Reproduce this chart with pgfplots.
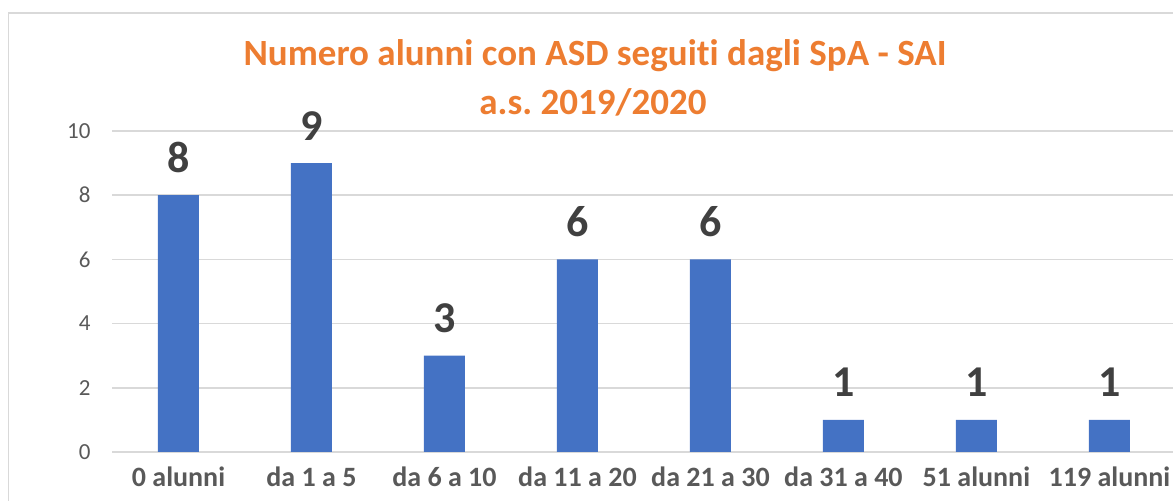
\documentclass[border=0pt]{standalone}
\usepackage{pgfplots}
\pgfplotsset{compat=1.18}
\usepackage{fontspec}
\setmainfont{Carlito}[Ligatures=NoCommon]
\frenchspacing

\definecolor{barblue}{HTML}{4472C4}
\definecolor{titleorange}{HTML}{ED7D31}
\definecolor{gridgray}{HTML}{D9D9D9}
\definecolor{ticktext}{HTML}{595959}
\definecolor{labeltext}{HTML}{404040}

\begin{document}
\begin{tikzpicture}
% page = 1173 x 501 bp, one bp per pixel of the reference
\useasboundingbox (0,0) rectangle (1173bp,501bp);
\clip (0,0) rectangle (1173bp,501bp);
\draw[gridgray, line width=1.5bp] (8.5bp,488bp) rectangle (1200bp,-20bp);

\begin{axis}[
    at={(112bp,49bp)}, anchor=south west,
    scale only axis,
    width=1064bp, height=321bp,
    ybar, bar width=41bp,
    xmin=-0.5, xmax=7.5,
    ymin=0, ymax=10,
    ytick={0,2,...,10},
    xtick=data,
    xticklabels={0 alunni, da 1 a 5, da 6 a 10, da 11 a 20, da 21 a 30, da 31 a 40, 51 alunni, 119 alunni},
    axis line style={draw=none},
    major tick length=0pt,
    ymajorgrids=true,
    grid style={gridgray, line width=1.5bp},
    /pgf/number format/assume math mode=true,
    yticklabel style={font=\fontsize{23bp}{27bp}\selectfont, text=ticktext, anchor=east, xshift=-18bp},
    xticklabel style={font=\bfseries\fontsize{28bp}{32bp}\selectfont, text=ticktext, anchor=base, yshift=-35bp},
    nodes near coords,
    every node near coord/.append style={font=\bfseries\fontsize{44bp}{50bp}\selectfont, text=labeltext, anchor=base, yshift=23bp},
]
\addplot[fill=barblue, draw=none] coordinates {(0,8) (1,9) (2,3) (3,6) (4,6) (5,1) (6,1) (7,1)};
\end{axis}

\node[font=\bfseries\fontsize{37bp}{44bp}\selectfont, text=titleorange, anchor=base] at (595bp,435bp) {Numero alunni con ASD seguiti dagli SpA - SAI};
\node[font=\bfseries\fontsize{37bp}{44bp}\selectfont, text=titleorange, anchor=base] at (593bp,386bp) {a.s. 2019/2020};
\end{tikzpicture}
\end{document}
